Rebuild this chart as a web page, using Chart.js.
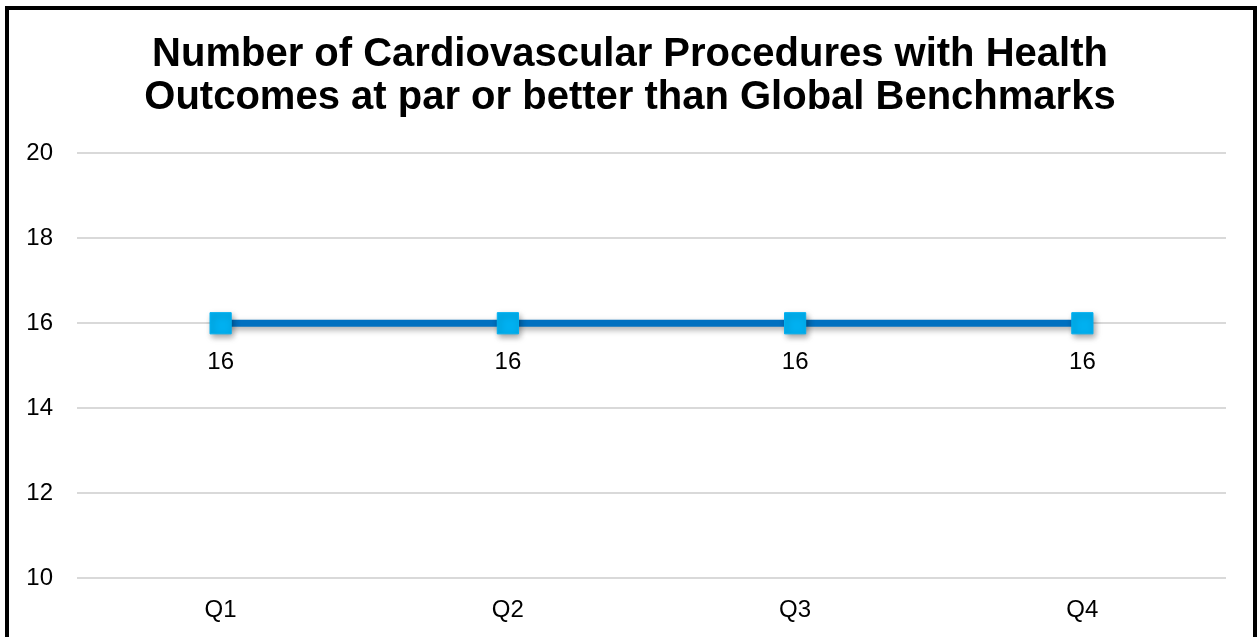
<!DOCTYPE html>
<html>
<head>
<meta charset="utf-8">
<script src="https://cdn.jsdelivr.net/npm/chart.js@4"></script>
<style>
  html, body { margin: 0; padding: 0; background: #fff; overflow: hidden; }
  #frame {
    position: absolute; left: 5px; top: 6px;
    width: 1244px; height: 640px;
    border: 4px solid #000;
    background: #fff;
  }
  canvas { display: block; }
</style>
</head>
<body>
<div id="frame"><canvas id="chart" width="1244" height="640"></canvas></div>
<script>
// chart data
const quarters = ['Q1', 'Q2', 'Q3', 'Q4'];
const procedures = [16, 16, 16, 16];
const titleLines = ['Number of Cardiovascular Procedures with Health', 'Outcomes at par or better than Global Benchmarks'];

const fontFamily = '"Liberation Sans", Arial, sans-serif';

// drop shadow under the line and markers
const shadowPlugin = {
    id: 'shadow',
    beforeDatasetsDraw(chart) {
        const ctx = chart.ctx;
        ctx.save();
        ctx.shadowColor = 'rgba(0,0,0,0.35)';
        ctx.shadowBlur = 6;
        ctx.shadowOffsetX = 2;
        ctx.shadowOffsetY = 3;
    },
    afterDatasetsDraw(chart) {
        chart.ctx.restore();
    }
};

// value labels under each point
const valueLabels = {
    id: 'valueLabels',
    afterDraw(chart) {
        const ctx = chart.ctx;
        const meta = chart.getDatasetMeta(0);
        ctx.save();
        ctx.font = '24px ' + fontFamily;
        ctx.fillStyle = '#000';
        ctx.textAlign = 'center';
        ctx.textBaseline = 'middle';
        meta.data.forEach((pt, i) => {
            ctx.fillText(String(procedures[i]), pt.x, pt.y + 39);
        });
        ctx.restore();
    }
};

new Chart(document.getElementById('chart'), {
    type: 'line',
    data: {
        labels: quarters,
        datasets: [{
            data: procedures,
            borderColor: '#0070C0',
            borderWidth: 7,
            pointStyle: 'rect',
            pointRadius: 15,
            pointHoverRadius: 15,
            pointBackgroundColor: '#00B0F0',
            pointBorderColor: '#00B0F0',
            pointBorderWidth: 1,
            tension: 0
        }]
    },
    options: {
        responsive: false,
        animation: false,
        layout: { padding: { left: 0, right: 2, top: 0, bottom: 0 } },
        plugins: {
            legend: { display: false },
            tooltip: { enabled: false },
            title: {
                display: true,
                text: titleLines,
                color: '#000',
                font: { family: fontFamily, size: 40, weight: 'bold', lineHeight: 1.08 },
                padding: { top: 23, bottom: 34 }
            }
        },
        scales: {
            x: {
                offset: true,
                grid: { display: false },
                border: { display: false },
                ticks: { color: '#000', font: { family: fontFamily, size: 24 }, padding: 10 },
                afterFit(scale) { scale.height = 72; }
            },
            y: {
                min: 10,
                max: 20,
                ticks: { stepSize: 2, color: '#000', font: { family: fontFamily, size: 24 }, padding: 24 },
                grid: { color: '#D9D9D9', lineWidth: 2, drawTicks: false },
                border: { display: false },
                afterFit(scale) { scale.width = 68; }
            },
            // empty right-hand spacer so the plot ends short of the frame
            ySpace: {
                position: 'right',
                min: 10,
                max: 20,
                grid: { display: false, drawTicks: false },
                border: { display: false },
                ticks: { display: false },
                afterFit(scale) { scale.width = 25; }
            }
        }
    },
    plugins: [shadowPlugin, valueLabels]
});
</script>
</body>
</html>
